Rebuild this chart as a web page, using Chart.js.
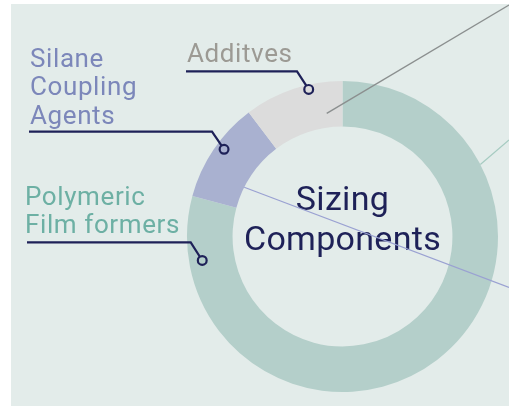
<!DOCTYPE html>
<html>
<head>
<meta charset="utf-8">
<script src="https://cdn.jsdelivr.net/npm/chart.js@4.4.1/dist/chart.umd.min.js"></script>
<style>
    html, body { margin: 0; padding: 0; background: #ffffff; }
    #wrap { width: 509px; height: 407px; position: relative; }
</style>
</head>
<body>
<div id="wrap"><canvas id="sizing"></canvas></div>
<script>
    // datos del anillo (porcentaje de cada componente)
    const categorias = ['Polymeric Film formers', 'Silane Coupling Agents', 'Additves'];
    const valores = [79.2, 10.5, 10.3];
    const colores = ['#b4cfca', '#a9b1d0', '#dcdcdc'];

    const etiquetas = [
        { lines: ['Polymeric', 'Film formers'], color: '#6db0a4', x: 25, y: 205 },
        { lines: ['Silane', 'Coupling', 'Agents'], color: '#7c87ba', x: 30, y: 67 },
        { lines: ['Additves'], color: '#9c9a94', x: 187, y: 62 }
    ];

    // t = posicion a lo largo del arco, r = posicion entre radio interior y exterior
    const conectores = [
        { idx: 0, t: 0.913, r: 0.71, lineY: 242.3, fromX: 27, bendX: 190.7 },
        { idx: 1, t: 0.562, r: 0.815, lineY: 131.7, fromX: 29, bendX: 212 },
        { idx: 2, t: 0.651, r: 0.90, lineY: 71.3, fromX: 186, bendX: 297 }
    ];

    const lineasSalida = [
        { idx: 2, t: 0.803, r: 0.31, toX: 509, toY: 5, color: '#8b8f8f', width: 1.4 },
        { idx: 0, t: 0.219, r: 1.0, toX: 509, toY: 140, color: '#a6cbc1', width: 1.2 },
        { idx: 1, t: 0.304, r: 0.0, toX: 509, toY: 287.5, color: '#9aa1d2', width: 1.2 }
    ];

    const FUENTE = 'Roboto, "DejaVu Sans", sans-serif';
    const NAVY = '#1e2158';

    function puntoEnArco(arc, t, r) {
        const ang = arc.startAngle + t * (arc.endAngle - arc.startAngle);
        const rad = arc.innerRadius + r * (arc.outerRadius - arc.innerRadius);
        return { x: arc.x + Math.cos(ang) * rad, y: arc.y + Math.sin(ang) * rad };
    }

    const fondoPlugin = {
        id: 'fondo',
        beforeDraw(chart) {
            const ctx = chart.ctx;
            ctx.save();
            ctx.fillStyle = '#ffffff';
            ctx.fillRect(0, 0, chart.width, chart.height);
            ctx.fillStyle = '#e3ecea';
            ctx.fillRect(11, 4, chart.width - 11, chart.height - 5);
            ctx.restore();
        }
    };

    const anotacionesPlugin = {
        id: 'anotaciones',
        afterDraw(chart) {
            const ctx = chart.ctx;
            const arcs = chart.getDatasetMeta(0).data;
            const centro = arcs[0];
            ctx.save();

            // texto central
            ctx.fillStyle = NAVY;
            ctx.textAlign = 'center';
            ctx.textBaseline = 'alphabetic';
            ctx.letterSpacing = '0.3px';
            ctx.font = '34px ' + FUENTE;
            ctx.fillText('Sizing', centro.x, centro.y - 27);
            ctx.fillText('Components', centro.x, centro.y + 13);

            // etiquetas
            ctx.textAlign = 'left';
            ctx.letterSpacing = '0.6px';
            ctx.font = '26px ' + FUENTE;
            etiquetas.forEach((et) => {
                ctx.fillStyle = et.color;
                et.lines.forEach((ln, i) => ctx.fillText(ln, et.x, et.y + i * 28.3));
            });
            ctx.letterSpacing = '0px';

            // lineas finas hacia fuera
            lineasSalida.forEach((ls) => {
                const p = puntoEnArco(arcs[ls.idx], ls.t, ls.r);
                ctx.strokeStyle = ls.color;
                ctx.lineWidth = ls.width;
                ctx.beginPath();
                ctx.moveTo(p.x, p.y);
                ctx.lineTo(ls.toX, ls.toY);
                ctx.stroke();
            });

            // conectores con circulo
            ctx.strokeStyle = NAVY;
            ctx.lineWidth = 2.2;
            conectores.forEach((c) => {
                const p = puntoEnArco(arcs[c.idx], c.t, c.r);
                const dx = p.x - c.bendX;
                const dy = p.y - c.lineY;
                const len = Math.sqrt(dx * dx + dy * dy);
                const radio = 4.4;
                ctx.beginPath();
                ctx.moveTo(c.fromX, c.lineY);
                ctx.lineTo(c.bendX, c.lineY);
                ctx.lineTo(p.x - dx / len * radio, p.y - dy / len * radio);
                ctx.stroke();
                ctx.beginPath();
                ctx.arc(p.x, p.y, radio, 0, Math.PI * 2);
                ctx.stroke();
            });

            ctx.restore();
        }
    };

    new Chart(document.getElementById('sizing'), {
        type: 'doughnut',
        data: {
            labels: categorias,
            datasets: [{
                data: valores,
                backgroundColor: colores,
                borderWidth: 0,
                hoverOffset: 0
            }]
        },
        options: {
            responsive: true,
            maintainAspectRatio: false,
            animation: false,
            cutout: '70.7%',
            rotation: 0,
            layout: { padding: { left: 187, right: 11, top: 81, bottom: 15 } },
            plugins: {
                legend: { display: false },
                tooltip: { enabled: false }
            }
        },
        plugins: [fondoPlugin, anotacionesPlugin]
    });
</script>
</body>
</html>
